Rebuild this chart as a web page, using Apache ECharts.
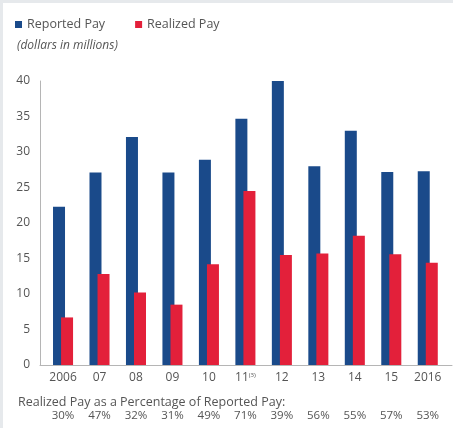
<!DOCTYPE html>
<html>
<head>
<meta charset="utf-8">
<script src="https://cdn.jsdelivr.net/npm/echarts@6/dist/echarts.min.js"></script>
<style>
  html, body { margin: 0; padding: 0; background: #fff; }
  #frame {
    position: absolute; left: 0; top: 0; width: 450px; height: 425px;
    border-left: 3px solid #e6e9ec; border-top: 3px solid #e6e9ec;
  }
  #main { position: absolute; left: 0; top: 0; width: 453px; height: 428px; }
</style>
</head>
<body>
<div id="frame"></div>
<div id="main"></div>
<script>
// data
const years = ['2006', '07', '08', '09', '10', '11{sup|(3)}', '12', '13', '14', '15', '2016']
const reportedPay = [22.3, 27.1, 32.1, 27.1, 28.9, 34.7, 40.1, 28.0, 33.0, 27.2, 27.3]
const realizedPay = [6.7, 12.8, 10.2, 8.5, 14.2, 24.5, 15.5, 15.7, 18.2, 15.6, 14.4]
const pctLabels = ['30%', '47%', '32%', '31%', '49%', '71%', '39%', '56%', '55%', '57%', '53%']

const fontFamily = '"Open Sans", sans-serif'
const textColor = '#555'

let myChart = echarts.init(document.getElementById('main'))
myChart.setOption({
  textStyle: { fontFamily: fontFamily },
  title: [
    {
      text: '(dollars in millions)',
      left: 12,
      top: 35,
      textStyle: { fontSize: 12, fontStyle: 'italic', fontWeight: 'normal', color: textColor }
    },
    {
      text: 'Realized Pay as a Percentage of Reported Pay:',
      left: 13,
      top: 391,
      textStyle: { fontSize: 12.5, fontWeight: 'normal', color: textColor }
    }
  ],
  legend: {
    left: 10,
    top: 13,
    icon: 'rect',
    itemWidth: 7,
    itemHeight: 7,
    itemGap: 30,
    textStyle: { fontSize: 12.5, color: textColor },
    data: ['Reported Pay', 'Realized Pay']
  },
  grid: [
    // bars
    { left: 44.8, right: 7, top: 81, bottom: 63 },
    // axis lines only
    { left: 40, right: 1, top: 81, bottom: 63 }
  ],
  xAxis: [
    {
      type: 'category',
      gridIndex: 0,
      data: years,
      axisLine: { show: false },
      axisTick: { show: false },
      axisLabel: {
        interval: 0,
        color: textColor,
        fontSize: 12,
        margin: 7,
        rich: {
          sup: { fontSize: 6, verticalAlign: 'top', padding: [0, 0, 6, 0], color: textColor }
        }
      }
    },
    {
      type: 'category',
      gridIndex: 0,
      position: 'bottom',
      offset: 38,
      data: pctLabels,
      axisLine: { show: false },
      axisTick: { show: false },
      axisLabel: { interval: 0, color: textColor, fontSize: 11.5, margin: 7 }
    },
    {
      type: 'value',
      gridIndex: 1,
      min: 0,
      max: 1,
      axisLine: { show: true, lineStyle: { color: '#b5b5b5' } },
      axisTick: { show: false },
      axisLabel: { show: false },
      splitLine: { show: false }
    }
  ],
  yAxis: [
    {
      type: 'value',
      gridIndex: 0,
      min: 0,
      max: 40,
      show: false
    },
    {
      type: 'value',
      gridIndex: 1,
      min: 0,
      max: 40,
      interval: 5,
      axisLine: { show: true, lineStyle: { color: '#b5b5b5' } },
      axisTick: { show: false },
      axisLabel: { color: textColor, fontSize: 12, margin: 10 },
      splitLine: { show: false }
    }
  ],
  series: [
    {
      name: 'Reported Pay',
      type: 'bar',
      xAxisIndex: 0,
      yAxisIndex: 0,
      barWidth: 12,
      itemStyle: { color: '#1a4a8a' },
      data: reportedPay
    },
    {
      name: 'Realized Pay',
      type: 'bar',
      xAxisIndex: 0,
      yAxisIndex: 0,
      barWidth: 12,
      barGap: '-33%',
      itemStyle: { color: '#e3203a' },
      data: realizedPay
    }
  ]
})
</script>
</body>
</html>
